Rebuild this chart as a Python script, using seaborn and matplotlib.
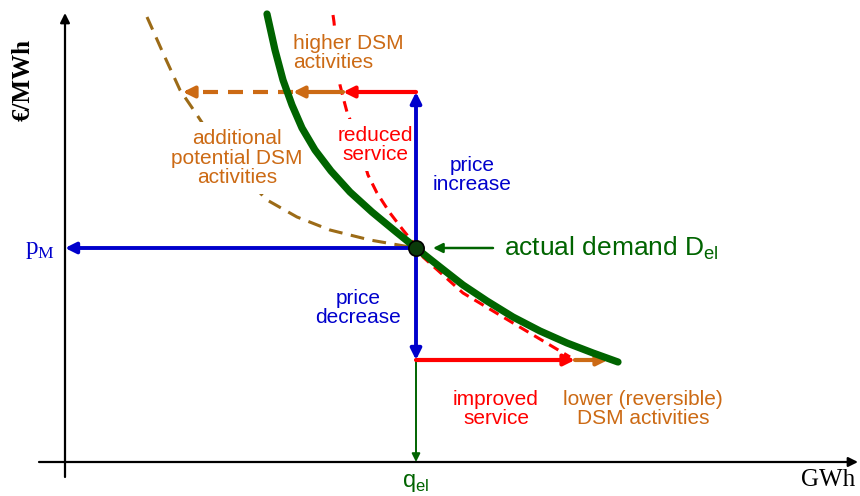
import matplotlib
matplotlib.use("Agg")
import matplotlib.pyplot as plt
import seaborn as sns

# conceptual units: q = quantity (GWh), p = price (EUR/MWh), origin at the axes crossing
q_el = 351
p_M = 214
p_high = 370
p_low = 102

# actual demand curve D_el
demand_q = [202, 210, 218, 227, 237, 250, 266, 285, 307, 330, 351,
            375, 398, 422, 448, 475, 502, 528, 553]
demand_p = [448, 412, 382, 357, 334, 312, 291, 270, 250, 231, 214,
            195, 177, 161, 145, 131, 119, 109, 100]

# demand with service level kept (red dashed)
service_q = [268, 269, 275, 278, 282, 290, 303, 312, 325, 338, 352,
             358, 398, 448, 505]
service_p = [447, 440, 377, 365, 350, 330, 287, 269, 249, 232, 215,
             205, 169, 139, 105]

# additional potential DSM (brown dashed)
potential_q = [82, 98, 115, 130, 160, 202, 232, 265, 305, 345, 351]
potential_p = [445, 409, 372, 350, 305, 262, 245, 232, 222, 215, 214]

# arrow end points on the quantity axis
q_reduced = 278
q_dsm_high = 228
q_dsm_potential = 118
q_improved = 510
q_dsm_low = 543

BLUE = "#0000CC"
RED = "#FF0000"
ORANGE = "#CC6A14"
BROWN = "#9C6B17"
GREEN = "#006400"

sns.set_theme(style="white")
plt.rcParams["font.family"] = ["Liberation Sans", "DejaVu Sans"]
plt.rcParams["mathtext.fontset"] = "custom"
plt.rcParams["mathtext.rm"] = "Liberation Sans"
plt.rcParams["lines.solid_joinstyle"] = "round"
plt.rcParams["lines.dash_joinstyle"] = "round"

fig = plt.figure(figsize=(8.6, 4.96), dpi=100)
ax = fig.add_axes([0, 0, 1, 1])
ax.set_xlim(-65, 795)
ax.set_ylim(-34, 462)
ax.axis("off")

def arrow(x0, y0, x1, y1, color, lw, scale=16, zorder=4):
    ax.annotate("", xy=(x1, y1), xytext=(x0, y0),
                arrowprops=dict(arrowstyle="-|>", color=color, lw=lw,
                                mutation_scale=scale, shrinkA=0, shrinkB=0),
                zorder=zorder)

# axes
arrow(-26, 0, 793, 0, "black", 1.6, 14)
arrow(0, -15, 0, 449, "black", 1.6, 14)

# dashed curves
sns.lineplot(x=potential_q, y=potential_p, sort=False, ax=ax, color=BROWN,
             lw=2.2, zorder=1).lines[-1].set_dashes((4.5, 2.8))
sns.lineplot(x=service_q, y=service_p, sort=False, ax=ax, color=RED,
             lw=2.2, zorder=1).lines[-1].set_dashes((3.5, 2.2))

# price arrows
arrow(q_el, p_M, 0, p_M, BLUE, 2.8)
arrow(q_el, p_M, q_el, p_high, BLUE, 2.8)
arrow(q_el, p_M, q_el, p_low, BLUE, 2.8)
arrow(q_el, p_low, q_el, 0, GREEN, 1.4, 12)

# higher price: reduced service / DSM
arrow(q_el, p_high, q_reduced, p_high, RED, 3)
arrow(q_reduced, p_high, q_dsm_high, p_high, ORANGE, 3)
ax.plot([q_dsm_high, q_dsm_potential + 8], [p_high, p_high], color=ORANGE,
        lw=3, dashes=(3.6, 2.4), zorder=4)
arrow(q_dsm_potential + 9, p_high, q_dsm_potential, p_high, ORANGE, 3)

# lower price: improved service / DSM
arrow(q_el, p_low, q_improved, p_low, RED, 3)
arrow(q_improved, p_low, q_dsm_low, p_low, ORANGE, 3)

# actual demand
sns.lineplot(x=demand_q, y=demand_p, sort=False, ax=ax, color=GREEN, lw=5.2,
             zorder=5)
ax.plot([q_el], [p_M], marker="o", ms=11, color="#0A3A0A", mec="black",
        mew=1.2, zorder=6)
arrow(428, p_M, 368, p_M, GREEN, 1.8, 14)

box = dict(facecolor="white", edgecolor="none", pad=5)
kw = dict(va="center", fontsize=15, linespacing=1.05, zorder=2)
ax.text(228, 409, "higher DSM\nactivities", color=ORANGE, bbox=box,
        ha="left", multialignment="left", **kw)
ax.text(310, 317, "reduced\nservice", color=RED, bbox=box, ha="center", **kw)
ax.text(172, 304, "additional\npotential DSM\nactivities", color=ORANGE,
        bbox=box, ha="center", **kw)
ax.text(407, 287, "price\nincrease", color=BLUE, ha="center", **kw)
ax.text(293, 154, "price\ndecrease", color=BLUE, ha="center", **kw)
ax.text(431, 53, "improved\nservice", color=RED, ha="center", **kw)
ax.text(578, 53, "lower (reversible)\nDSM activities", color=ORANGE,
        ha="center", **kw)

ax.text(439, 214, "actual demand D$_{\\mathrm{el}}$", color=GREEN, fontsize=19,
        ha="left", va="center")
ax.text(q_el, -21, "q$_{\\mathrm{el}}$", color=GREEN, fontsize=17,
        ha="center", va="center")

serif = ["Liberation Serif", "DejaVu Serif"]
ax.text(-25, p_M - 2, "p$_\\mathregular{M}$", color=BLUE, fontsize=18,
        ha="center", va="center", family=serif)
ax.text(763, -18, "GWh", color="black", fontsize=18, ha="center",
        va="center", family=serif)
ax.text(-42, 382, "€/MWh", color="black", fontsize=18, fontweight="bold",
        rotation=90, ha="center", va="center", family=serif)

fig.savefig("out.png", dpi=100)
